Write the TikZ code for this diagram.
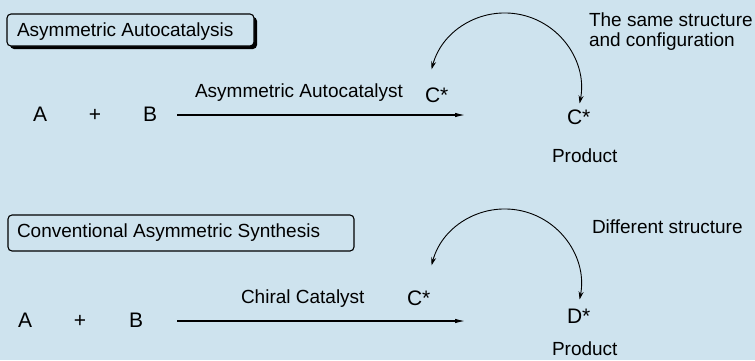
\documentclass[tikz,border=0pt]{standalone}
\usepackage{fontspec}
\setmainfont{Liberation Sans}
\usetikzlibrary{arrows.meta,calc}
\definecolor{bgblue}{RGB}{206,227,238}
\begin{document}
\begin{tikzpicture}[x=1pt,y=-1pt,
  lbl/.style={inner sep=0pt,outer sep=0pt,anchor=base west,font=\fontsize{19}{22}\selectfont},
  big/.style={inner sep=0pt,outer sep=0pt,anchor=base west,font=\fontsize{21}{24}\selectfont},
  chem/.style={inner sep=0pt,outer sep=0pt,anchor=base west,font=\fontsize{21}{24}\selectfont},
  rxn/.style={line width=1.1pt,-{Latex[length=10pt,width=4.5pt]}},
  loop/.style={line width=0.9pt,{Stealth[length=8pt,width=5pt]}-{Stealth[length=8pt,width=5pt]}},
  titlebox/.style={draw=black,line width=1.1pt,rounded corners=4pt,fill=bgblue}
]
\fill[bgblue] (0,0) rectangle (755,360);
\useasboundingbox (0,0) rectangle (755,360);

% ---- top: asymmetric autocatalysis
\fill[black,rounded corners=4pt] (10,17) rectangle (257,49);
\draw[titlebox] (7,14) rectangle (254,46);
\node[lbl] (t1) at (17,36) {Asymmetric Autocatalysis};

\node[big] (a1) at (33,121) {A};
\node[big,anchor=base] (p1) at (95,121) {+};
\node[big] (b1) at (143,121) {B};
\coordinate (r1s) at (177,115);
\coordinate (r1e) at (465,115);
\draw[rxn] (r1s) -- (r1e);
\node[lbl] (cat1) at (195,97) {Asymmetric Autocatalyst};
\node[chem] (c1) at (425,102) {C*};
\node[chem] (prod1) at (567,124) {C*};
\node[lbl] (pl1) at (552,162) {Product};
\node[lbl,align=left,anchor=north west] (n1) at (589,13) {The same structure\\[-2pt]and configuration};

\coordinate (o1) at (505,89);
\coordinate (l1) at ($(o1)+(-165:76)$);
\draw[loop] (l1) arc[start angle=-165,end angle=11,radius=76];

% ---- bottom: conventional asymmetric synthesis
\draw[titlebox] (8,215) rectangle (354,251);
\node[lbl] (t2) at (17,237) {Conventional Asymmetric Synthesis};

\node[big] (a2) at (18,327) {A};
\node[big,anchor=base] (p2) at (80,327) {+};
\node[big] (b2) at (129,327) {B};
\coordinate (r2s) at (177,321);
\coordinate (r2e) at (465,321);
\draw[rxn] (r2s) -- (r2e);
\node[lbl] (cat2) at (241,303) {Chiral Catalyst};
\node[chem] (c2) at (407,305) {C*};
\node[chem] (prod2) at (567,323) {D*};
\node[lbl] (pl2) at (552,355) {Product};
\node[lbl] (n2) at (592,233) {Different structure};

\coordinate (o2) at (505,285);
\coordinate (l2) at ($(o2)+(-165:76)$);
\draw[loop] (l2) arc[start angle=-165,end angle=11,radius=76];
\end{tikzpicture}
\end{document}
